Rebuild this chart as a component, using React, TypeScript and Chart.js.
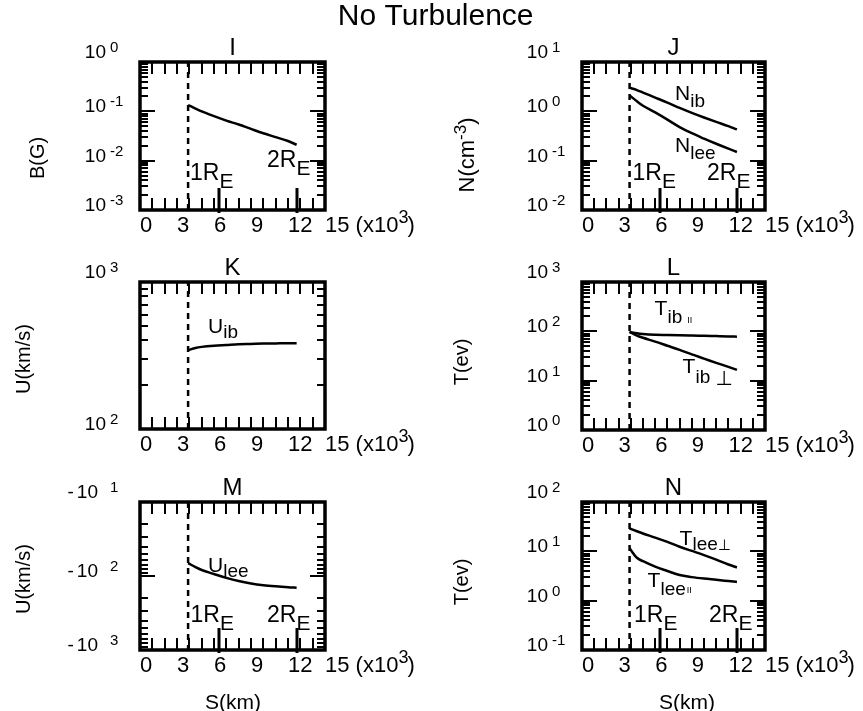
import React, { useEffect, useRef } from 'react';
import { Chart, registerables } from 'chart.js';

Chart.register(...registerables);

const W = 863;
const H = 711;
const FONT = '"Liberation Sans", Arial, Helvetica, sans-serif';
const SYM_FONT = '"DejaVu Sans", sans-serif';

// ---------- data (S in units of 10^3 km) ----------
const S_KM = [3.9, 4.5, 5, 6, 7, 8, 9, 10, 11, 12, 12.7];
const B_G = [0.134, 0.114, 0.1, 0.08, 0.065, 0.054, 0.044, 0.036, 0.03, 0.025, 0.021];
const N_IB = [3.0, 2.7, 2.4, 1.9, 1.5, 1.17, 0.93, 0.75, 0.61, 0.5, 0.43];
const N_LEE = [2.1, 1.6, 1.3, 0.95, 0.68, 0.48, 0.36, 0.28, 0.22, 0.175, 0.15];
const U_IB = [344, 356, 362, 369, 373, 377, 379, 381, 382, 383, 383];
const T_IB_PAR = [97, 91, 88, 85, 84, 83, 82, 81, 80, 79, 78];
const T_IB_PERP = [97, 82, 74, 62, 51, 42, 34, 28, 23, 19, 16.5];
const U_LEE = [-67, -76, -83, -94, -106, -117, -126, -133, -138, -142, -144];
const T_LEE_PERP = [29, 25.5, 23, 19, 15.5, 12.4, 10.2, 8.4, 6.8, 5.4, 4.7];
const T_LEE_PAR = [11.5, 7.4, 6.3, 4.9, 4.0, 3.3, 3.0, 2.8, 2.65, 2.5, 2.4];

const X_TICK_LABELS = [0, 3, 6, 9, 12, 15];
const X_MINOR_TICKS = [1, 2, 3, 4, 5, 6, 7, 8, 9, 10, 11, 12, 13, 14];
const RE_MARKS = [6.371, 12.742];
const BOUNDARY_S = 3.9;

const I_EXPS = [0, -1, -2, -3];
const J_EXPS = [1, 0, -1, -2];
const K_EXPS = [3, 2];
const L_EXPS = [3, 2, 1, 0];
const M_EXPS = [1, 2, 3];
const N_EXPS = [2, 1, 0, -1];

type Run = { t: string; size: number; dy?: number; dx?: number; font?: string };

function drawRuns(ctx: CanvasRenderingContext2D, runs: Run[], x: number, y: number, align: 'left' | 'center' | 'right' = 'left') {
  const widths = runs.map((r) => {
    ctx.font = `${r.size}px ${r.font || FONT}`;
    return ctx.measureText(r.t).width;
  });
  const total = widths.reduce((a, b) => a + b, 0) + runs.reduce((a, r) => a + (r.dx || 0), 0);
  let cx = align === 'left' ? x : align === 'center' ? x - total / 2 : x - total;
  ctx.textAlign = 'left';
  ctx.textBaseline = 'alphabetic';
  runs.forEach((r, i) => {
    cx += r.dx || 0;
    ctx.font = `${r.size}px ${r.font || FONT}`;
    ctx.fillText(r.t, cx, y + (r.dy || 0));
    cx += widths[i];
  });
}

type Label = { x: number; y: number; runs: Run[] };
type PanelDef = {
  key: string;
  box: [number, number, number, number];
  yMin: number;
  yMax: number;
  reverse?: boolean;
  neg?: boolean;
  exps: number[];
  series: number[][];
  re: [number, number][] | null;
  yTitle: { runs: Run[]; cx: number; cy: number; size: number };
  xTitleX?: number;
  labels: Label[];
  mainTitle?: boolean;
};

const lbl = (main: string, sub: string, subDy: number, extra?: Run): Run[] => {
  const r: Run[] = [
    { t: main, size: 21 },
    { t: sub, size: 19, dy: subDy },
  ];
  if (extra) r.push(extra);
  return r;
};

const PANELS: PanelDef[] = [
  {
    key: 'I', box: [140, 62, 325, 210], yMin: 1e-3, yMax: 1, exps: I_EXPS, series: [B_G],
    re: [[50, 118], [127, 105]],
    yTitle: { runs: [{ t: 'B(G)', size: 20 }], cx: 38.5, cy: 158, size: 20 },
    labels: [], mainTitle: true,
  },
  {
    key: 'J', box: [582, 62, 765, 210], yMin: 1e-2, yMax: 10, exps: J_EXPS, series: [N_IB, N_LEE],
    re: [[50.5, 118], [125, 118]],
    yTitle: { runs: [{ t: 'N(cm', size: 22 }, { t: '-3', size: 17, dy: -8 }, { t: ')', size: 22 }], cx: 468, cy: 155, size: 22 },
    labels: [
      { x: 93, y: 38, runs: lbl('N', 'ib', 7) },
      { x: 93, y: 90, runs: lbl('N', 'lee', 7) },
    ],
  },
  {
    key: 'K', box: [140, 282, 325, 429], yMin: 100, yMax: 1000, exps: K_EXPS, series: [U_IB],
    re: null,
    yTitle: { runs: [{ t: 'U(km/s)', size: 20 }], cx: 25, cy: 359, size: 20 },
    labels: [{ x: 68, y: 51, runs: lbl('U', 'ib', 5) }],
  },
  {
    key: 'L', box: [582, 282, 765, 430], yMin: 1, yMax: 1000, exps: L_EXPS, series: [T_IB_PAR, T_IB_PERP],
    re: null,
    yTitle: { runs: [{ t: 'T(ev)', size: 20 }], cx: 463, cy: 362, size: 20 },
    labels: [
      { x: 72.6, y: 33, runs: lbl('T', 'ib', 8, { t: 'II', size: 9, dx: 5, dy: 8 }) },
      { x: 100.6, y: 91, runs: lbl('T', 'ib', 10, { t: '⊥', size: 20, dx: 5, dy: 12, font: SYM_FONT }) },
    ],
  },
  {
    key: 'M', box: [140, 502, 325, 650], yMin: 10, yMax: 1000, reverse: true, neg: true, exps: M_EXPS,
    series: [U_LEE.map((v) => -v)],
    re: [[50.5, 120], [127, 120]],
    yTitle: { runs: [{ t: 'U(km/s)', size: 20 }], cx: 25, cy: 579, size: 20 },
    xTitleX: 233,
    labels: [{ x: 68, y: 70, runs: lbl('U', 'lee', 5) }],
  },
  {
    key: 'N', box: [582, 502, 765, 650], yMin: 0.1, yMax: 100, exps: N_EXPS, series: [T_LEE_PERP, T_LEE_PAR],
    re: [[52, 120], [127, 120]],
    yTitle: { runs: [{ t: 'T(ev)', size: 20 }], cx: 463, cy: 582, size: 20 },
    xTitleX: 687,
    labels: [
      { x: 97.6, y: 43, runs: lbl('T', 'lee', 5, { t: '⊥', size: 15, dx: 0, dy: 5, font: SYM_FONT }) },
      { x: 65.6, y: 85, runs: lbl('T', 'lee', 8, { t: 'II', size: 9, dx: 1, dy: 6 }) },
    ],
  },
];

function framePlugin(p: PanelDef) {
  return {
    id: 'frame' + p.key,
    afterDraw(chart: any) {
      const ctx: CanvasRenderingContext2D = chart.ctx;
      const xs = chart.scales.x;
      const ys = chart.scales.y;
      const { left, right, top, bottom } = chart.chartArea;
      ctx.save();
      ctx.strokeStyle = '#000';
      ctx.fillStyle = '#000';
      ctx.lineCap = 'butt';

      // x minor ticks (top & bottom)
      ctx.lineWidth = 2;
      ctx.beginPath();
      for (const s of X_MINOR_TICKS) {
        const x = Math.round(xs.getPixelForValue(s));
        ctx.moveTo(x, top);
        ctx.lineTo(x, top + 12);
        ctx.moveTo(x, bottom);
        ctx.lineTo(x, bottom - 12);
      }
      ctx.stroke();

      // y log ticks (left & right)
      const lo = Math.round(Math.log10(p.yMin));
      const hi = Math.round(Math.log10(p.yMax));
      ctx.lineWidth = 2;
      ctx.beginPath();
      for (let e = lo; e < hi; e++) {
        for (let m = 2; m <= 9; m++) {
          const y = Math.round(ys.getPixelForValue(m * Math.pow(10, e)));
          ctx.moveTo(left, y);
          ctx.lineTo(left + 8, y);
          ctx.moveTo(right, y);
          ctx.lineTo(right - 8, y);
        }
      }
      for (let e = lo + 1; e < hi; e++) {
        const y = Math.round(ys.getPixelForValue(Math.pow(10, e)));
        ctx.moveTo(left, y);
        ctx.lineTo(left + 15, y);
        ctx.moveTo(right, y);
        ctx.lineTo(right - 15, y);
      }
      ctx.stroke();

      // Earth-radius markers
      if (p.re) {
        ctx.lineWidth = 3;
        ctx.beginPath();
        for (const s of RE_MARKS) {
          const x = Math.round(xs.getPixelForValue(s));
          ctx.moveTo(x, bottom + 3);
          ctx.lineTo(x, bottom - 22);
        }
        ctx.stroke();
      }

      // frame
      ctx.lineWidth = 3.5;
      ctx.strokeRect(left, top, right - left, bottom - top);

      // y tick labels
      for (const e of p.exps) {
        const y = ys.getPixelForValue(Math.pow(10, e));
        const base = Math.abs(y - top) < 1 ? y - 4 : y + 1;
        if (p.neg) {
          drawRuns(ctx, [{ t: '-', size: 19 }], left - 72.5, base);
          drawRuns(ctx, [{ t: '10', size: 19 }], left - 42, base, 'right');
        } else {
          drawRuns(ctx, [{ t: '10', size: 19 }], left - 34, base, 'right');
        }
        drawRuns(ctx, [{ t: String(e), size: 15 }], left - 30, base - 6);
      }

      // x tick labels
      const xb = bottom + 22;
      for (const s of X_TICK_LABELS) {
        const x = xs.getPixelForValue(s);
        if (s === 15) {
          drawRuns(ctx, [
            { t: '15 (x10', size: 22 },
            { t: '3', size: 18, dy: -9 },
            { t: ')', size: 22, dx: -1 },
          ], x, xb);
        } else {
          drawRuns(ctx, [{ t: String(s), size: 22 }], x, xb);
        }
      }

      // panel title
      drawRuns(ctx, [{ t: p.key, size: 24 }], (left + right) / 2, top - 7, 'center');

      // y axis title (rotated)
      ctx.save();
      ctx.translate(p.yTitle.cx, p.yTitle.cy);
      ctx.rotate(-Math.PI / 2);
      drawRuns(ctx, p.yTitle.runs, 0, 0.26 * p.yTitle.size, 'center');
      ctx.restore();

      // x axis title
      if (p.xTitleX !== undefined) {
        drawRuns(ctx, [{ t: 'S(km)', size: 21 }], p.xTitleX, 709, 'center');
      }

      // R_E labels
      if (p.re) {
        p.re.forEach((pos, i) => {
          drawRuns(ctx, [
            { t: `${i + 1}R`, size: 23 },
            { t: 'E', size: 21, dy: 8 },
          ], left + pos[0], top + pos[1]);
        });
      }

      // curve labels
      for (const l of p.labels) {
        drawRuns(ctx, l.runs, left + l.x, top + l.y);
      }

      if (p.mainTitle) {
        drawRuns(ctx, [{ t: 'No Turbulence', size: 30 }], 435.7, 25, 'center');
      }
      ctx.restore();
    },
  };
}

function buildConfig(p: PanelDef): any {
  const [l, t, r, b] = p.box;
  const datasets: any[] = p.series.map((ys) => ({
    data: S_KM.map((s, i) => ({ x: s, y: ys[i] })),
    showLine: true,
    borderColor: '#000',
    borderWidth: 2.5,
    pointRadius: 0,
    cubicInterpolationMode: 'monotone',
    fill: false,
  }));
  datasets.push({
    data: [{ x: BOUNDARY_S, y: p.yMin }, { x: BOUNDARY_S, y: p.yMax }],
    showLine: true,
    borderColor: '#000',
    borderWidth: 2.5,
    borderDash: [6, 5],
    pointRadius: 0,
    fill: false,
  });
  return {
    type: 'scatter',
    data: { datasets },
    options: {
      responsive: false,
      animation: false,
      devicePixelRatio: 1,
      events: [],
      layout: { padding: { left: l, top: t, right: W - r, bottom: H - b }, autoPadding: false },
      plugins: { legend: { display: false }, tooltip: { enabled: false }, title: { display: false } },
      scales: {
        x: { type: 'linear', min: 0, max: 15, display: false },
        y: { type: 'logarithmic', min: p.yMin, max: p.yMax, reverse: !!p.reverse, display: false },
      },
    },
    plugins: [framePlugin(p)],
  };
}

function Panel({ p }: { p: PanelDef }) {
  const ref = useRef<HTMLCanvasElement>(null);
  useEffect(() => {
    const chart = new Chart(ref.current as HTMLCanvasElement, buildConfig(p));
    return () => chart.destroy();
  }, [p]);
  return (
    <canvas
      ref={ref}
      width={W}
      height={H}
      style={{ position: 'absolute', left: 0, top: 0, width: W, height: H }}
    />
  );
}

export default function App() {
  return (
    <div style={{ position: 'absolute', left: 0, top: 0, width: W, height: H, background: '#fff', overflow: 'hidden' }}>
      {PANELS.map((p) => (
        <Panel key={p.key} p={p} />
      ))}
    </div>
  );
}
